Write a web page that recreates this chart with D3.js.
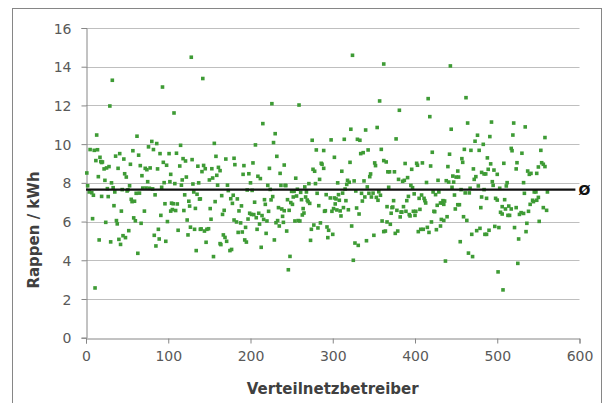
<!DOCTYPE html>
<html>
<head>
<meta charset="utf-8">
<script src="https://cdn.jsdelivr.net/npm/d3@7/dist/d3.min.js"></script>
<style>
  body { margin: 0; background: #fff; }
  svg { display: block; font-family: "DejaVu Sans", Verdana, sans-serif; }
</style>
</head>
<body>
<div id="chart"></div>
<script>
// Werte: [Verteilnetzbetreiber, Rappen/kWh]
const tariffs = [
  [1,8.51],[2,7.85],[4,7.53],[7,7.49],[9,7.36],[5,9.72],[10,9.68],[13,10.47],[14,9.71],[12,9.15],
  [8,6.15],[11,2.57],[15,8.32],[16,5.05],[17,9.32],[18,9.1],[19,9.05],[20,9.08],[19,7.3],[23,8.13],
  [22,8.72],[25,8.77],[24,5.96],[26,7.7],[27,7.29],[28,8.84],[29,11.97],[30,4.95],[31,8.0],[32,13.3],
  [34,6.82],[35,7.53],[33,7.75],[36,9.38],[37,6.05],[38,5.88],[39,8.75],[41,9.51],[40,5.08],[42,4.82],
  [43,6.54],[44,7.65],[45,5.27],[46,9.23],[47,8.47],[48,5.17],[49,8.3],[50,7.58],[51,7.64],[52,5.53],
  [53,7.85],[54,8.96],[55,7.15],[56,7.03],[57,9.66],[58,6.19],[59,7.05],[60,6.04],[61,7.46],[62,10.41],
  [63,4.36],[64,9.43],[65,7.47],[66,8.89],[67,5.91],[68,8.37],[69,7.73],[71,6.54],[72,8.75],[73,7.73],
  [74,8.68],[75,8.06],[76,9.86],[77,7.72],[78,8.77],[80,10.14],[81,7.69],[82,9.72],[83,5.29],[84,7.38],
  [85,4.74],[86,10.03],[87,8.72],[88,5.6],[89,5.1],[90,9.51],[91,6.32],[93,12.95],[92,7.77],[94,9.06],
  [95,8.01],[96,6.92],[97,4.98],[98,8.91],[99,6.0],[101,9.51],[102,8.06],[103,8.44],[103,6.54],[104,6.95],
  [105,6.62],[106,6.92],[107,11.61],[108,7.96],[109,6.57],[110,9.53],[111,6.91],[112,5.55],[114,8.87],[115,9.94],
  [116,7.88],[117,8.15],[118,9.25],[119,6.57],[120,7.38],[121,9.13],[122,8.3],[123,6.08],[124,5.31],[125,7.05],
  [126,6.8],[127,5.71],[128,14.49],[129,9.2],[130,7.94],[131,7.53],[132,5.6],[133,6.68],[134,4.5],[135,7.41],
  [136,8.86],[137,8.0],[138,7.16],[139,5.6],
  [142,13.39],[156,10.04],[158,9.37],[170,9.23],[180,9.27],[181,8.94],[143,8.9],[141,8.58],[145,8.73],[153,8.73],
  [161,8.8],[163,8.63],[159,8.39],[154,8.25],[150,8.15],[160,7.88],[172,7.88],[173,7.6],[165,7.34],[176,7.18],
  [179,7.36],[178,6.94],[157,7.03],[168,6.58],[166,6.37],[151,6.67],[139,7.17],[152,6.12],[180,6.08],[140,5.62],
  [144,5.51],[147,5.6],[149,5.63],[167,5.31],[169,5.18],[171,4.98],[163,4.86],[164,4.81],[146,4.93],[155,4.19],
  [175,4.5],[177,4.56],
  [226,12.09],[215,11.06],[230,10.54],[228,10.08],[206,9.96],[232,9.37],[192,8.89],[203,9.03],[241,8.92],[223,8.75],
  [191,8.44],[198,8.47],[236,8.49],[209,8.34],[212,8.22],[200,8.0],[221,7.87],[237,7.87],[242,7.87],[196,7.63],
  [202,7.61],[224,7.66],[184,7.17],[205,7.0],[217,7.13],[218,6.89],[225,7.12],[227,7.29],[189,6.81],[186,6.55],
  [222,6.53],[234,6.72],[238,6.65],[241,6.56],[199,6.43],[201,6.37],[204,6.36],[210,6.43],[214,6.31],[207,6.2],
  [216,6.11],[220,6.03],[239,6.27],[233,6.05],[231,5.94],[240,5.96],[235,5.77],[183,5.98],[188,5.93],[197,6.13],
  [211,5.87],[194,5.7],[208,5.6],[185,5.44],[190,5.46],[219,5.39],[193,5.05],[195,4.94],[229,5.05],[213,4.67],
  [259,12.02],[275,10.2],[298,10.22],[280,9.7],[289,9.67],[302,9.32],[286,9.01],[287,8.96],[289,8.75],[276,8.7],
  [278,8.6],[284,8.18],[255,8.24],[243,7.86],[271,7.96],[279,7.96],[266,7.79],[257,7.67],[250,7.56],[253,7.56],
  [261,7.51],[268,7.53],[281,7.46],[292,7.39],[297,7.22],[302,7.22],[252,7.27],[256,7.32],[267,7.27],[245,7.13],
  [269,7.11],[249,6.98],[262,7.13],[270,7.03],[272,6.94],[251,6.89],[283,6.82],[247,6.58],[264,6.67],[265,6.44],
  [263,6.34],[291,6.56],[290,6.53],[299,6.53],[301,6.67],[254,6.03],[258,6.05],[260,6.03],[285,5.93],[277,5.82],
  [282,5.67],[274,5.6],[293,5.72],[295,5.55],[300,5.34],[294,5.17],[244,5.51],[273,5.03],[248,4.2],[246,3.51],
  [324,14.59],[362,14.14],[357,12.23],[322,10.77],[340,10.73],[354,10.86],[314,10.25],[330,10.25],[333,10.2],[334,9.51],
  [337,9.56],[343,9.7],[359,9.73],[321,9.06],[351,9.03],[352,8.89],[362,9.15],[311,8.6],[346,8.46],[345,8.32],
  [306,8.0],[318,8.13],[320,8.03],[317,7.92],[326,8.1],[338,8.1],[342,7.79],[315,7.68],[328,7.58],[307,7.39],
  [312,7.47],[335,7.46],[344,7.46],[349,7.47],[356,7.54],[339,7.27],[347,7.27],[353,7.25],[358,7.36],[304,7.17],
  [308,7.1],[316,7.08],[336,7.06],[355,7.1],[303,6.91],[313,6.72],[319,6.61],[329,6.7],[305,6.6],[309,6.55],
  [332,6.39],[310,6.29],[360,6.03],[323,5.77],[362,5.48],[350,5.29],[341,5.01],[327,4.89],[331,4.77],[325,4.0],
  [416,12.35],[381,11.75],[418,11.42],[377,10.27],[421,9.58],[365,9.08],[367,8.57],[369,8.57],[375,8.57],[388,9.0],
  [402,9.01],[403,8.91],[409,9.03],[419,8.87],[396,8.7],[391,8.27],[380,8.18],[385,8.08],[387,8.13],[414,8.02],
  [368,7.77],[395,7.87],[397,7.75],[422,7.53],[392,7.3],[399,7.43],[405,7.2],[408,7.37],[411,7.2],[412,7.08],
  [413,6.96],[374,7.08],[390,7.08],[386,6.77],[366,6.77],[372,6.72],[373,6.75],[378,6.58],[383,6.49],[384,6.49],
  [389,6.53],[398,6.53],[401,6.53],[406,6.63],[423,6.53],[371,6.43],[393,6.36],[394,6.29],[400,6.32],[382,6.24],
  [366,5.98],[370,5.86],[420,5.98],[364,5.51],[379,5.51],[376,5.39],[407,5.6],[410,5.6],[415,5.7],[404,5.48],
  [417,5.44],
  [443,14.04],[462,12.4],[464,11.09],[444,10.77],[476,10.46],[473,10.15],[483,9.99],[442,9.48],[460,9.73],[468,9.68],
  [478,9.68],[457,9.25],[458,9.06],[440,8.84],[471,8.72],[452,8.61],[481,8.54],[484,8.46],[446,8.35],[450,8.3],
  [453,8.3],[474,8.32],[472,8.18],[428,8.13],[438,8.11],[441,8.04],[447,8.04],[477,7.84],[445,7.77],[456,7.65],
  [467,7.72],[484,7.65],[429,7.53],[425,7.39],[461,7.48],[466,7.48],[448,7.37],[481,7.27],[434,7.08],[436,7.06],
  [431,6.96],[433,6.96],[427,6.84],[435,6.89],[452,6.87],[454,6.87],[449,6.65],[480,6.72],[424,6.51],[439,6.25],
  [459,6.25],[432,6.11],[435,6.06],[463,6.06],[431,5.77],[426,5.58],[479,5.65],[475,5.53],[469,5.34],[485,5.34],
  [455,4.96],[465,4.37],[470,4.19],[437,3.96],
  [493,11.14],[520,11.09],[534,10.89],[491,10.39],[519,10.47],[517,9.78],[518,9.66],[530,9.53],[488,9.29],[492,8.98],
  [524,9.04],[508,9.01],[489,8.7],[496,8.66],[523,8.72],[537,8.61],[541,8.49],[486,8.46],[500,8.44],[539,8.44],
  [494,8.06],[532,8.01],[512,8.01],[495,7.87],[511,7.84],[503,7.72],[545,7.53],[533,7.46],[487,7.2],[498,7.2],
  [500,7.11],[509,7.13],[543,7.1],[544,7.03],[540,6.89],[506,6.77],[514,6.8],[510,6.65],[517,6.65],[523,6.72],
  [538,6.53],[504,6.48],[506,6.39],[529,6.46],[527,6.37],[532,6.42],[513,6.32],[515,6.32],[536,5.91],[497,5.75],
  [502,5.69],[521,5.69],[490,5.55],[535,5.48],[487,5.34],[526,5.1],[525,3.84],[501,3.4],[507,2.47],
  [558,10.34],[553,9.68],[554,9.04],[556,8.96],[550,8.82],[558,8.84],[548,8.49],[561,7.53],[547,7.53],[550,7.25],
  [548,7.1],[556,6.72],[560,6.58],[551,6.01]
];

const meanTariff = 7.65;          // Durchschnitt (Ø)
const meanLineEnd = 595;          // Linie endet kurz vor 600
const xTicks = [0, 100, 200, 300, 400, 500, 600];
const yTicks = [0, 2, 4, 6, 8, 10, 12, 14, 16];
const xTitle = 'Verteilnetzbetreiber';
const yTitle = 'Rappen / kWh';
const meanLabel = 'Ø';

const width = 606, height = 403;
const plot = { left: 86, right: 579.5, top: 28, bottom: 337.7 };

const svg = d3.select('#chart')
  .append('svg')
  .attr('width', width)
  .attr('height', height);

// Rahmen
svg.append('rect')
  .attr('x', 12.5).attr('y', 8.5)
  .attr('width', 589).attr('height', 400)
  .attr('fill', 'none')
  .attr('stroke', '#868686');

const x = d3.scaleLinear().domain([0, 600]).range([plot.left, plot.right]);
const y = d3.scaleLinear().domain([0, 16]).range([plot.bottom, plot.top]);

// Gitternetzlinien
svg.append('g')
  .selectAll('line')
  .data(yTicks.filter(d => d > 0))
  .enter()
  .append('line')
  .attr('x1', plot.left).attr('x2', plot.right)
  .attr('y1', d => Math.round(y(d)) + 0.5).attr('y2', d => Math.round(y(d)) + 0.5)
  .attr('stroke', '#bfbfbf')
  .attr('stroke-width', 1);

// Achsen
const xAxis = svg.append('g')
  .attr('transform', `translate(0, ${Math.round(plot.bottom) + 0.5})`)
  .call(d3.axisBottom(x).tickValues(xTicks).tickSize(5).tickPadding(8));

const yAxis = svg.append('g')
  .attr('transform', `translate(${plot.left + 0.5}, 0)`)
  .call(d3.axisLeft(y).tickValues(yTicks).tickSize(5).tickPadding(10));

[xAxis, yAxis].forEach(a => {
  a.select('.domain').attr('stroke', '#868686');
  a.selectAll('.tick line').attr('stroke', '#868686');
  a.selectAll('.tick text')
    .attr('fill', '#595959')
    .style('font-size', '14px')
    .style('font-family', '"DejaVu Sans", Verdana, sans-serif');
});
yAxis.selectAll('.tick text').attr('dy', '0.36em');

// Punkte
svg.append('g')
  .selectAll('rect')
  .data(tariffs)
  .enter()
  .append('rect')
  .attr('x', d => x(d[0]) - 1.8)
  .attr('y', d => y(d[1]) - 1.8)
  .attr('width', 3.6)
  .attr('height', 3.6)
  .attr('fill', '#3e9b35');

// Durchschnittslinie
svg.append('line')
  .attr('x1', x(0)).attr('x2', x(meanLineEnd))
  .attr('y1', y(meanTariff)).attr('y2', y(meanTariff))
  .attr('stroke', '#111')
  .attr('stroke-width', 2.4);

svg.append('text')
  .attr('x', x(meanLineEnd) + 3)
  .attr('y', y(meanTariff) + 5)
  .attr('fill', '#111')
  .style('font-size', '14px')
  .style('font-weight', 'bold')
  .text(meanLabel);

// Achsentitel
svg.append('text')
  .attr('x', (plot.left + plot.right) / 2)
  .attr('y', 394)
  .attr('text-anchor', 'middle')
  .attr('fill', '#404040')
  .style('font-size', '15px')
  .style('font-weight', 'bold')
  .text(xTitle);

svg.append('text')
  .attr('transform', `translate(39, 230) rotate(-90)`)
  .attr('text-anchor', 'middle')
  .attr('fill', '#404040')
  .style('font-size', '15px')
  .style('font-weight', 'bold')
  .text(yTitle);
</script>
</body>
</html>
